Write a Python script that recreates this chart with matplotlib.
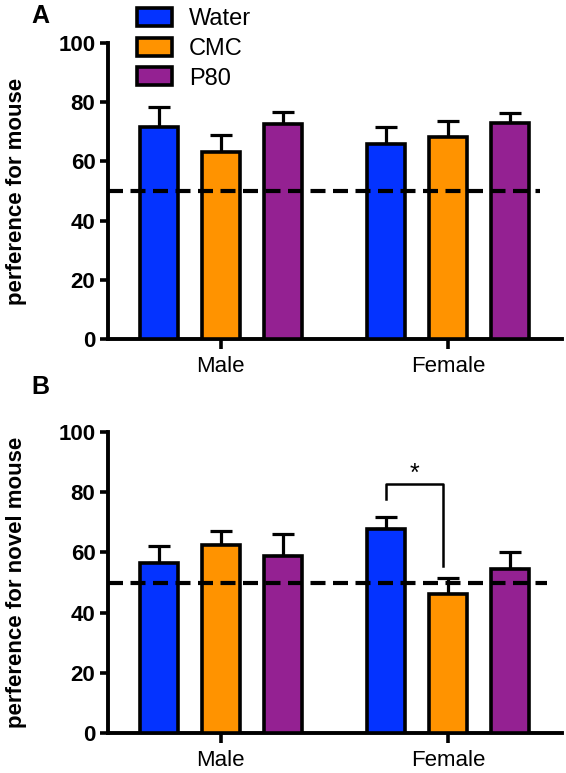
import matplotlib.pyplot as plt
import matplotlib.patches as mpatches
import numpy as np

plt.rcParams['font.family'] = ['Liberation Sans', 'DejaVu Sans']

groups = ["Male", "Female"]
treatments = ["Water", "CMC", "P80"]
colors = ["#0433FF", "#FF9300", "#942192"]

# panel A: perference for mouse (mean, sem), order Water, CMC, P80
a_male = [71.6, 63.2, 72.6]
a_male_err = [6.8, 5.7, 4.1]
a_female = [65.9, 68.2, 73.0]
a_female_err = [5.7, 5.4, 3.4]

# panel B: perference for novel mouse
b_male = [56.5, 62.6, 58.7]
b_male_err = [5.8, 4.6, 7.5]
b_female = [67.9, 46.2, 54.4]
b_female_err = [3.9, 5.3, 5.6]

chance = 50

x_male = np.arange(3)
x_female = np.arange(3) + 3.66
bar_w = 0.61
edge_lw = 2.6


def draw_panel(ax, male, male_err, female, female_err, ylabel, dash_end):
    for xs, vals, errs in [(x_male, male, male_err), (x_female, female, female_err)]:
        ax.errorbar(xs, vals, yerr=[np.zeros(3), errs], fmt="none", ecolor="black",
                    elinewidth=2.3, capsize=8, capthick=2.3, zorder=2)
        ax.bar(xs, vals, width=bar_w, color=colors, edgecolor="black",
               linewidth=edge_lw, zorder=3)
    # chance line
    ax.plot([-0.82, dash_end], [chance, chance], color="black", lw=3,
            dashes=(3.6, 1.8), zorder=4, clip_on=False)
    ax.set_xlim(-0.82, 6.5)
    ax.set_ylim(0, 100)
    ax.set_yticks([0, 20, 40, 60, 80, 100])
    ax.set_xticks([x_male[1], x_female[1]])
    ax.set_xticklabels(groups, fontsize=16)
    for lab in ax.get_yticklabels():
        lab.set_fontweight("bold")
        lab.set_fontsize(16)
    ax.spines["top"].set_visible(False)
    ax.spines["right"].set_visible(False)
    ax.spines["left"].set_linewidth(2.8)
    ax.spines["bottom"].set_linewidth(2.8)
    ax.tick_params(axis="y", width=2.6, length=6, pad=3)
    ax.tick_params(axis="x", width=2.6, length=7, pad=5)
    ax.set_ylabel(ylabel, fontsize=16, fontweight="bold")
    ax.yaxis.set_label_coords(-0.178, 0.5)


fig = plt.figure(figsize=(5.66, 7.73), dpi=100)
ax1 = fig.add_axes([0.1908, 0.5614, 0.802, 0.383])
ax2 = fig.add_axes([0.1908, 0.0517, 0.802, 0.3894])

draw_panel(ax1, a_male, a_male_err, a_female, a_female_err,
           "perference for mouse", 6.15)
draw_panel(ax2, b_male, b_male_err, b_female, b_female_err,
           "perference for novel mouse", 6.26)

# significance bracket, Female Water vs CMC
bx0 = x_female[0]
bx1 = x_female[1] - 0.08
ax2.plot([bx0, bx0, bx1, bx1], [77.7, 82.6, 82.6, 55.4], color="black", lw=1.8, zorder=5)
ax2.text((bx0 + bx1) / 2, 82.0, "*", ha="center", va="bottom", fontsize=18)

# legend
handles = [mpatches.Patch(facecolor=c, edgecolor="black", linewidth=2.6, label=t)
           for c, t in zip(colors, treatments)]
fig.legend(handles=handles, loc="upper left", bbox_to_anchor=(0.242, 0.99),
           frameon=False, fontsize=17, handlelength=1.5, handleheight=0.8,
           labelspacing=0.32, handletextpad=0.7, borderaxespad=0, borderpad=0)

fig.text(0.056, 0.979, "A", fontsize=18, fontweight="bold", va="center", ha="left")
fig.text(0.056, 0.499, "B", fontsize=18, fontweight="bold", va="center", ha="left")

fig.savefig("out.png", dpi=100)
